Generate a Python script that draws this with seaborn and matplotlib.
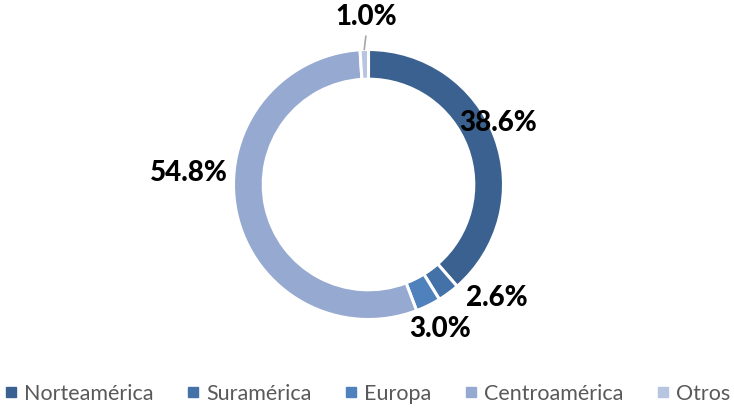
import matplotlib.pyplot as plt
import numpy as np
import seaborn as sns
from matplotlib.lines import Line2D

sns.set_theme(style="white")
plt.rcParams["font.family"] = ["Lato", "DejaVu Sans"]

regions = ["Norteamérica", "Suramérica", "Europa", "Centroamérica", "Otros"]
shares = [38.6, 2.6, 3.0, 54.8, 1.0]
colors = ["#3B6190", "#4472A8", "#4F81BD", "#95A9D1", "#B7C5E1"]

# label placement (angle offset in degrees, radius in units of the pie radius)
label_place = [(5, 1.06), (12, 1.27), (0, 1.19), (-16, 1.33), (-1, 1.24)]

fig = plt.figure(figsize=(7.34, 4.09), dpi=100)
R = 135
cx, cy = 368.5, 409 - 184.5
ax = fig.add_axes([(cx - R) / 734, (cy - R) / 409, 2 * R / 734, 2 * R / 409])

wedges, _ = ax.pie(shares, colors=colors, startangle=90, counterclock=False,
                   wedgeprops=dict(width=0.22, edgecolor="white", linewidth=2.2))
ax.set_xlim(-1, 1)
ax.set_ylim(-1, 1)
ax.set_aspect("equal")

for w, v, (da, r) in zip(wedges, shares, label_place):
    mid = (w.theta1 + w.theta2) / 2 + da
    x, y = r * np.cos(np.radians(mid)), r * np.sin(np.radians(mid))
    ax.text(x, y, f"{v:.1f}%", ha="center", va="center", fontsize=20,
            fontweight=900, color="black")

# leader line for the small "Otros" slice
w = wedges[-1]
mid = np.radians((w.theta1 + w.theta2) / 2)
ax.plot([1.0 * np.cos(mid), 1.1 * np.cos(mid) + 0.015], [1.0 * np.sin(mid), 1.1 * np.sin(mid)],
        color="#A6A6A6", lw=1.2, clip_on=False)

handles = [Line2D([], [], marker="s", ls="", color=c, markersize=7) for c in colors]
leg = fig.legend(handles, regions, loc="lower center", ncol=5, frameon=False,
                 bbox_to_anchor=(0.5, -0.035), fontsize=15.5, handletextpad=0.25,
                 columnspacing=1.5, handlelength=0.7)
for t in leg.get_texts():
    t.set_color("#595959")

fig.savefig("out.png", dpi=100)
